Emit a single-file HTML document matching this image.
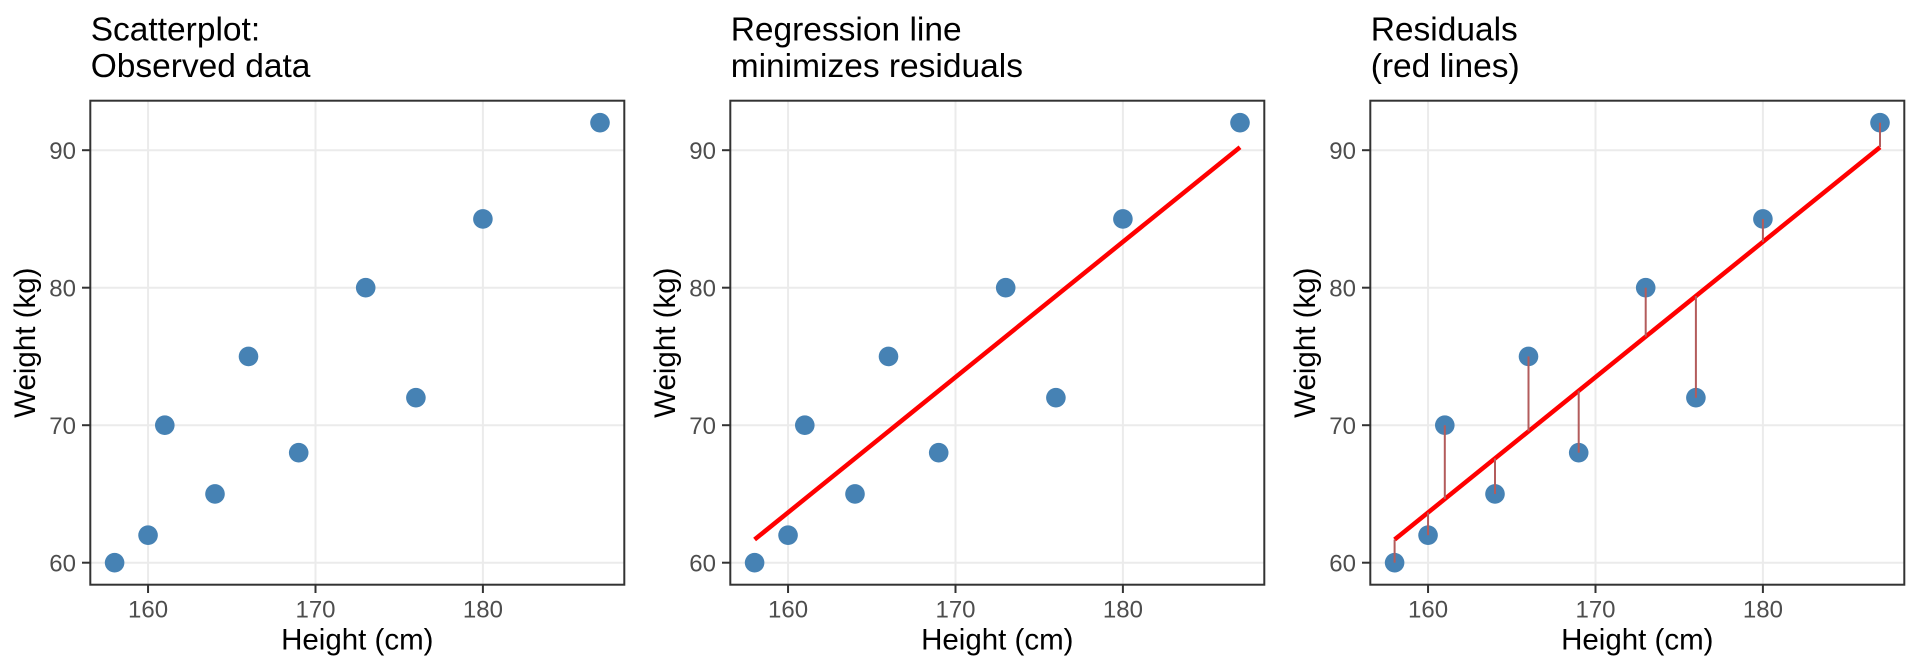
<!DOCTYPE html>
<html><head><meta charset="utf-8"><style>
html,body{margin:0;padding:0;background:#fff;}
svg{display:block;font-family:"Liberation Sans",Arial,sans-serif;}
.tt{font-size:33.5px;fill:#000;}
.tk{font-size:24px;fill:#4d4d4d;}
.at{font-size:29.5px;fill:#000;}
.g{stroke:#ebebeb;stroke-width:2;}
.p{fill:#4682b4;}
.rl{stroke:#b35c5c;stroke-width:2;}
</style></head><body>
<svg width="1920" height="672" viewBox="0 0 1920 672" xmlns="http://www.w3.org/2000/svg">
<defs>
<g id="frame">
  <rect x="90.3" y="100.7" width="534" height="484" fill="#fff"/>
  <line class="g" x1="90.3" x2="624.3" y1="562.7" y2="562.7"/>
  <line class="g" x1="90.3" x2="624.3" y1="425.2" y2="425.2"/>
  <line class="g" x1="90.3" x2="624.3" y1="287.7" y2="287.7"/>
  <line class="g" x1="90.3" x2="624.3" y1="150.2" y2="150.2"/>
  <line class="g" x1="148.05" x2="148.05" y1="100.7" y2="584.7"/>
  <line class="g" x1="315.5" x2="315.5" y1="100.7" y2="584.7"/>
  <line class="g" x1="482.9" x2="482.9" y1="100.7" y2="584.7"/>
</g>
<g id="axes">
  <rect x="90.3" y="100.7" width="534" height="484" fill="none" stroke="#333" stroke-width="2"/>
  <g stroke="#333" stroke-width="2">
    <line x1="82" x2="90.3" y1="562.7" y2="562.7"/>
    <line x1="82" x2="90.3" y1="425.2" y2="425.2"/>
    <line x1="82" x2="90.3" y1="287.7" y2="287.7"/>
    <line x1="82" x2="90.3" y1="150.2" y2="150.2"/>
    <line x1="148.05" x2="148.05" y1="584.7" y2="593"/>
    <line x1="315.5" x2="315.5" y1="584.7" y2="593"/>
    <line x1="482.9" x2="482.9" y1="584.7" y2="593"/>
  </g>
  <g class="tk" text-anchor="end">
    <text x="76" y="571.3">60</text>
    <text x="76" y="433.8">70</text>
    <text x="76" y="296.3">80</text>
    <text x="76" y="158.8">90</text>
  </g>
  <g class="tk" text-anchor="middle">
    <text x="148.05" y="617.5">160</text>
    <text x="315.5" y="617.5">170</text>
    <text x="482.9" y="617.5">180</text>
  </g>
  <text class="at" x="357.3" y="649.5" text-anchor="middle">Height (cm)</text>
  <text class="at" transform="translate(35,342.7) rotate(-90)" text-anchor="middle">Weight (kg)</text>
</g>
<g id="pts">
  <circle class="p" cx="114.6" cy="562.7" r="9.8"/>
  <circle class="p" cx="148.05" cy="535.2" r="9.8"/>
  <circle class="p" cx="164.8" cy="425.2" r="9.8"/>
  <circle class="p" cx="215.0" cy="493.95" r="9.8"/>
  <circle class="p" cx="248.5" cy="356.45" r="9.8"/>
  <circle class="p" cx="298.7" cy="452.7" r="9.8"/>
  <circle class="p" cx="365.7" cy="287.7" r="9.8"/>
  <circle class="p" cx="415.9" cy="397.7" r="9.8"/>
  <circle class="p" cx="482.9" cy="218.95" r="9.8"/>
  <circle class="p" cx="600.0" cy="122.7" r="9.8"/>
</g>
<line id="reg" x1="114.6" y1="539.56" x2="600.0" y2="147.21" stroke="#ff0000" stroke-width="4.5"/>
</defs>

<g>
  <use href="#frame"/>
  <use href="#pts"/>
  <use href="#axes"/>
  <text class="tt" x="90.7" y="40.7">Scatterplot:</text>
  <text class="tt" x="90.7" y="77">Observed data</text>
</g>

<g transform="translate(640,0)">
  <use href="#frame"/>
  <use href="#pts"/>
  <use href="#reg"/>
  <use href="#axes"/>
  <text class="tt" x="90.7" y="40.7">Regression line</text>
  <text class="tt" x="90.7" y="77">minimizes residuals</text>
</g>

<g transform="translate(1280,0)">
  <use href="#frame"/>
  <use href="#pts"/>
  <use href="#reg"/>
  <g class="rl">
    <line x1="114.6" x2="114.6" y1="562.7" y2="539.56"/>
    <line x1="148.05" x2="148.05" y1="535.2" y2="512.5"/>
    <line x1="164.8" x2="164.8" y1="425.2" y2="498.97"/>
    <line x1="215.0" x2="215.0" y1="493.95" y2="458.38"/>
    <line x1="248.5" x2="248.5" y1="356.45" y2="431.32"/>
    <line x1="298.7" x2="298.7" y1="452.7" y2="390.74"/>
    <line x1="365.7" x2="365.7" y1="287.7" y2="336.62"/>
    <line x1="415.9" x2="415.9" y1="397.7" y2="296.03"/>
    <line x1="482.9" x2="482.9" y1="218.95" y2="241.91"/>
    <line x1="600.0" x2="600.0" y1="122.7" y2="147.21"/>
  </g>
  <use href="#axes"/>
  <text class="tt" x="90.7" y="40.7">Residuals</text>
  <text class="tt" x="90.7" y="77">(red lines)</text>
</g>
</svg>
</body></html>
